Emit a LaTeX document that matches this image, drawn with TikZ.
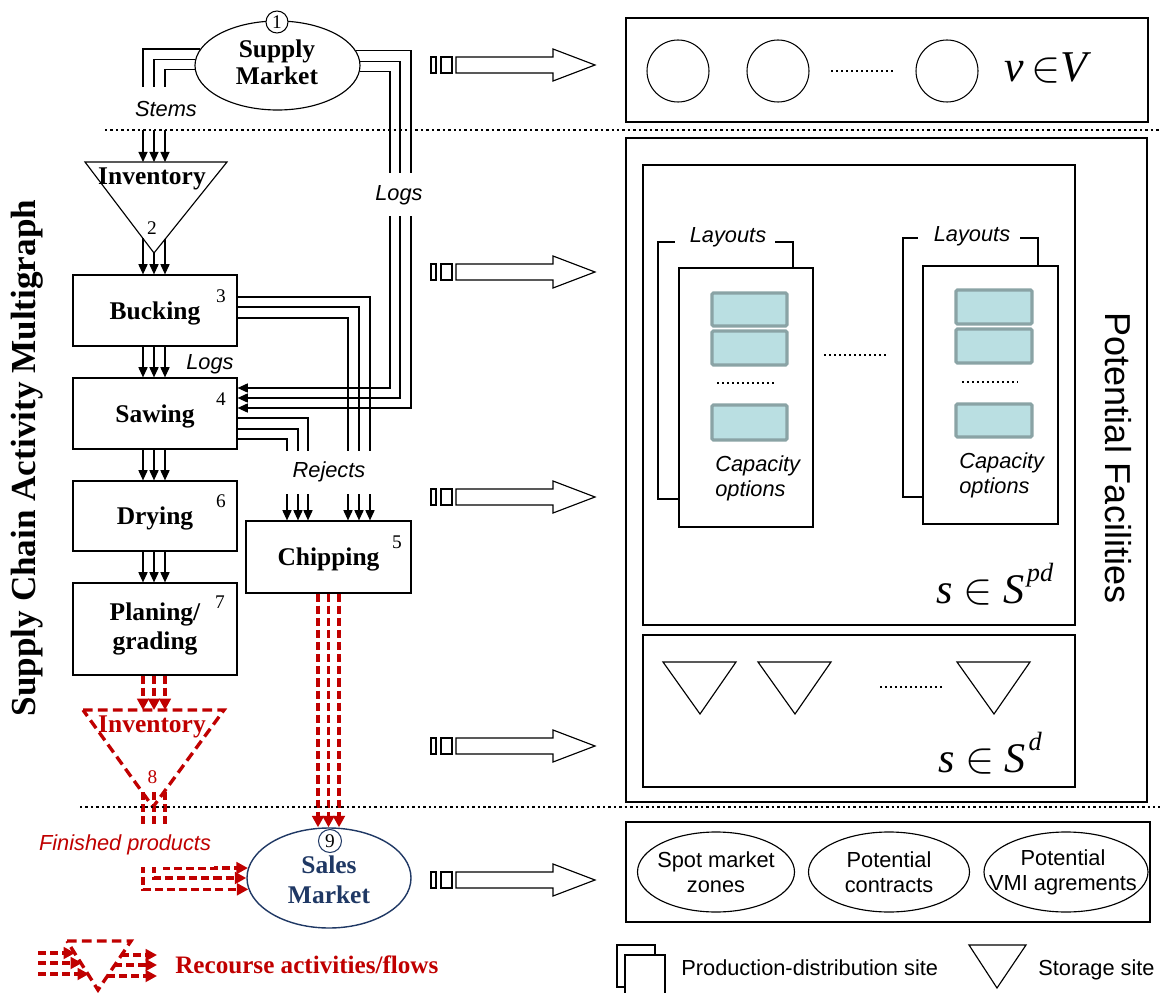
\documentclass[tikz,border=0pt]{standalone}
\usepackage{fontspec}
\setmainfont{Liberation Serif}
\newfontfamily\sfam{Liberation Sans}
\usetikzlibrary{arrows.meta,shapes.geometric}
\definecolor{rec}{HTML}{C00000}
\definecolor{navy}{HTML}{1F3864}
\definecolor{capfill}{HTML}{BADFE2}
\definecolor{capdraw}{HTML}{8AA3A5}
\newlength\PX
\setlength\PX{0.02cm}
\tikzset{
  procbox/.style={draw, line width=0.7pt, minimum width=164\PX, inner sep=0pt, align=center,
    font=\fontsize{14.5}{16}\selectfont\bfseries},
  boldtxt/.style={inner sep=0pt, align=center, font=\fontsize{14.5}{15.5}\selectfont\bfseries},
  num/.style={inner sep=0pt, font=\fontsize{11}{13}\selectfont},
  lab/.style={inner sep=0pt, font=\sfam\itshape\fontsize{12.4}{14.2}\selectfont},
  gaplab/.style={lab, fill=white, inner xsep=1.5pt, minimum height=43\PX},
  stxt/.style={inner sep=0pt, align=center, font=\sfam\fontsize{12.4}{14.2}\selectfont},
  fl/.style={line width=0.65pt, -{Triangle[length=5.8pt,width=5.2pt]}},
  rfl/.style={rec, line width=1.9pt, dash pattern=on 4.6pt off 2.3pt, -{Triangle[length=6.5pt,width=6.6pt]}},
  rtri/.style={rec, line width=1.9pt, dash pattern=on 5.5pt off 3pt, line join=miter},
  thin/.style={line width=0.65pt},
  dotline/.style={line width=1.1pt, dash pattern=on 1.1pt off 1.75pt},
  sepline/.style={line width=1.4pt, dash pattern=on 1.4pt off 1.7pt},
  capbox/.style={draw=capdraw, fill=capfill, line width=1.8pt, rounded corners=0.8pt},
  circ/.style={draw, circle, line width=0.6pt, minimum size=62\PX, inner sep=0pt},
  mkt/.style={draw, ellipse, thin, minimum height=80\PX, inner sep=0pt},
  mathlab/.style={inner sep=0pt, anchor=base},
}
\begin{document}
\begin{tikzpicture}[x=0.02cm, y=-0.02cm]
\fill[white] (0,0) rectangle (1160,993);
\path[use as bounding box] (0,0) rectangle (1160,993);

% ---------- left vertical title
\node[rotate=90, inner sep=0pt, font=\fontsize{20}{22}\selectfont\bfseries] (title) at (27,458) {Supply Chain Activity Multigraph};

% ---------- Supply market
\node[draw, ellipse, thin, minimum width=165\PX, minimum height=89\PX, inner sep=0pt] (sm) at (277.5,65.5) {};
\node[boldtxt] (smt) at (277,62) {Supply\\Market};

% ---------- process boxes
\node[procbox, text depth=0pt, minimum height=71\PX] (bucking) at (155,310.5) {Bucking};
\node[procbox, text depth=0pt, minimum height=71\PX] (sawing) at (155,413.5) {Sawing};
\node[procbox, text depth=0pt, minimum height=70\PX] (drying) at (155,516) {Drying};
\node[procbox, minimum height=92\PX] (planing) at (155,629) {Planing/\\grading};
\node[procbox, text depth=0pt, minimum width=165\PX, minimum height=72\PX] (chipping) at (328.5,557) {Chipping};
\node[num, anchor=base] (n3) at (221,303) {3};
\node[num, anchor=base] (n4) at (221,405) {4};
\node[num, anchor=base] (n6) at (221,507) {6};
\node[num, anchor=base] (n7) at (220,608) {7};
\node[num, anchor=base] (n5) at (397,548) {5};

% ---------- inventory (storage) 2
\coordinate (i1l) at (85,162); \coordinate (i1r) at (227,162); \coordinate (i1b) at (154,253);
\draw[thin] (i1l) -- (i1r) -- (i1b) -- cycle;
\node[boldtxt, anchor=base] (inv1) at (152,185) {Inventory};
\node[num, anchor=base] (n2) at (152,235) {2};
\coordinate (i1t1) at (143,162); \coordinate (i1t2) at (154,162); \coordinate (i1t3) at (165,162);
\coordinate (i1o1) at (143,238.5); \coordinate (i1o3) at (165,239);

% stems
\draw[fl] (sm.168.7) -| (i1t1);
\draw[fl] (sm.176.9) -| (i1t2);
\draw[fl] (sm.183.8) -| (i1t3);
% logs to sawing
\draw[fl] (sm.11.3) -| (411,408) -- (sawing.east |- 0,408);
\draw[fl] (sm.3.1) -| (400,398) -- (sawing.east |- 0,398);
\draw[fl] (sm.356.2) -| (390,388) -- (sawing.east |- 0,388);
% inventory to bucking
\draw[fl] (i1o1) -- (bucking.north -| i1o1);
\draw[fl] (i1b) -- (bucking.north -| i1b);
\draw[fl] (i1o3) -- (bucking.north -| i1o3);
% chain of boxes
\foreach \xx in {143,154,165} {
  \draw[fl] (bucking.south -| \xx,0) -- (sawing.north -| \xx,0);
  \draw[fl] (sawing.south -| \xx,0) -- (drying.north -| \xx,0);
  \draw[fl] (drying.south -| \xx,0) -- (planing.north -| \xx,0);
}
% rejects
\draw[fl] (bucking.east |- 0,297) -| (chipping.north -| 370,0);
\draw[fl] (bucking.east |- 0,307) -| (chipping.north -| 359,0);
\draw[fl] (bucking.east |- 0,318) -| (chipping.north -| 348,0);
\draw[fl] (sawing.east |- 0,418) -| (chipping.north -| 308,0);
\draw[fl] (sawing.east |- 0,429) -| (chipping.north -| 298,0);
\draw[fl] (sawing.east |- 0,439) -| (chipping.north -| 287,0);

\node[gaplab] (stems) at (166,109) {Stems};
\node[gaplab] (logsA) at (399,195) {Logs};
\node[gaplab, minimum width=100\PX] (rej) at (329,472) {Rejects};
\node[lab] (logsB) at (210,364) {Logs};

% ---------- recourse inventory 8
\coordinate (i2l) at (83,710); \coordinate (i2r) at (224,710); \coordinate (i2b) at (153,807);
\draw[rtri] (i2l) -- (i2r) -- (i2b) -- cycle;
\node[boldtxt, anchor=base, text=rec] (inv2) at (152,732) {Inventory};
\node[num, anchor=base, text=rec] (n8) at (152.5,783) {8};
\coordinate (i2o1) at (143,792); \coordinate (i2o2) at (154,792); \coordinate (i2o3) at (165,792);
\foreach \xx in {143,154,165} {
  \draw[rfl] (planing.south -| \xx,0) -- (\xx,710);
}

% ---------- sales market
\node[draw=navy, ellipse, line width=0.8pt, minimum width=164\PX, minimum height=100\PX, inner sep=0pt] (sales) at (329,878) {};
\node[boldtxt, text=navy, font=\fontsize{14.5}{17}\selectfont\bfseries] (salest) at (329,880) {Sales\\Market};
\draw[rfl] (i2o1) |- (sales.188.6);
\draw[rfl] (i2o2) |- (sales.180.7);
\draw[rfl] (i2o3) |- (sales.173.6);
\foreach \xx in {318,328.5,339} {
  \draw[rfl] (chipping.south -| \xx,0) -- (sales.north -| \xx,0);
}
\node[gaplab, text=rec] (fp) at (125,845) {Finished products};
\node[draw=navy, circle, fill=white, line width=0.6pt, minimum size=23\PX, inner sep=0pt, font=\fontsize{11}{13}\selectfont] (c9) at (330,841) {9};
\node[draw, circle, fill=white, line width=0.6pt, minimum size=22\PX, inner sep=0pt, font=\fontsize{11}{13}\selectfont] (c1) at (277,22) {1};

% ---------- block arrows
\foreach \yc in {65,272,497,746,880} {
  \draw[thin] (431,\yc-8) rectangle (436,\yc+8);
  \draw[thin] (441,\yc-8) rectangle (452,\yc+8);
  \draw[thin] (456,\yc-8) -- (553,\yc-8) -- (553,\yc-16) -- (595,\yc) -- (553,\yc+16) -- (553,\yc+8) -- (456,\yc+8) -- cycle;
}

% ---------- right: suppliers
\node[draw, thin, minimum width=522\PX, minimum height=104\PX, inner sep=0pt] (vbox) at (887,70) {};
\node[circ] (v1) at (678,71) {};
\node[circ] (v2) at (778,71) {};
\node[circ] (v3) at (947,71) {};
\draw[dotline] (831,71) -- (893,71);
\node[mathlab, font=\fontsize{25}{28}\selectfont] (vinV) at (1048,82) {\textit{v}\,$\in$\textit{V}};

% ---------- potential facilities
\node[draw, thin, minimum width=521\PX, minimum height=664\PX, inner sep=0pt] (pf) at (886.5,470) {};
\node[rotate=-90, inner sep=0pt, font=\sfam\fontsize{20.5}{22}\selectfont] (pft) at (1118,458) {Potential Facilities};
\node[draw, thin, minimum width=432\PX, minimum height=460\PX, inner sep=0pt] (pdbox) at (859,395) {};
\node[draw, thin, minimum width=432\PX, minimum height=152\PX, inner sep=0pt] (dbox) at (859,711) {};

% layout group 1
\draw[thin] (679,499) -| (658,242) -- (675,242);
\draw[thin] (775,242) -| (793,268);
\node[draw, thin, minimum width=134\PX, minimum height=259\PX, inner sep=0pt] (lay1) at (746,397.5) {};
\node[lab, anchor=base] (layt1) at (728,243) {Layouts};
\draw[capbox] (712,293) rectangle (787,326);
\draw[capbox] (712,331) rectangle (787,365);
\draw[capbox] (712,405) rectangle (787,440);
\draw[dotline] (717,383) -- (775,383);
\node[lab, align=left, anchor=west] (cap1) at (715,478) {Capacity\\options};

% layout group 2
\draw[thin] (923,497) -| (903,238) -- (918,238);
\draw[thin] (1020,238) -| (1038,266);
\node[draw, thin, minimum width=135\PX, minimum height=258\PX, inner sep=0pt] (lay2) at (990.5,395) {};
\node[lab, anchor=base] (layt2) at (972,242) {Layouts};
\draw[capbox] (956,290) rectangle (1032,324);
\draw[capbox] (956,329) rectangle (1032,363);
\draw[capbox] (956,404) rectangle (1032,437);
\draw[dotline] (962,382) -- (1018,382);
\node[lab, align=left, anchor=west] (cap2) at (959,475) {Capacity\\options};

\draw[dotline] (824,355) -- (886,355);
\node[mathlab, font=\fontsize{24}{26}\selectfont] (spd) at (995,603) {\textit{s} $\in$ \textit{S}\hspace{1.5pt}\raisebox{0.5em}{\fontsize{15}{15}\selectfont\textit{pd}}};

% storage sites
\draw[thin] (663,662) -- (736,662) -- (700,714) -- cycle;
\draw[thin] (758,662) -- (831,662) -- (795,714) -- cycle;
\draw[thin] (957,662) -- (1030,662) -- (994,714) -- cycle;
\draw[dotline] (880,687) -- (942,687);
\node[mathlab, font=\fontsize{24}{26}\selectfont] (sd) at (990,772) {\textit{s} $\in$ \textit{S}\hspace{1.5pt}\raisebox{0.5em}{\fontsize{15}{15}\selectfont\textit{d}}};

% ---------- markets
\node[draw, thin, minimum width=524\PX, minimum height=100\PX, inner sep=0pt] (mbox) at (888,872) {};
\node[mkt, minimum width=157\PX] (e1) at (716,872) {};
\node[mkt, minimum width=161\PX] (e2) at (889,872) {};
\node[mkt, minimum width=164\PX] (e3) at (1066,872) {};
\node[stxt] (e1t) at (e1) {Spot market\\zones};
\node[stxt] (e2t) at (e2) {Potential\\contracts};
\node[stxt] (e3t) at (1063,872) {Potential\\VMI agrements};

% ---------- legend
\coordinate (lgl) at (67,941); \coordinate (lgr) at (131,941); \coordinate (lgb) at (98,990);
\draw[rtri] (lgl) -- (lgr) -- (lgb) -- cycle;
\draw[rfl] (38,953) -- (75,953);
\draw[rfl] (38,963) -- (82,963);
\draw[rfl] (38,974) -- (89,974);
\draw[rfl] (121,955) -- (157,955);
\draw[rfl] (114,965) -- (157,965);
\draw[rfl] (107,976) -- (157,976);
\node[anchor=base west, inner sep=0pt, text=rec, font=\fontsize{14.3}{16}\selectfont\bfseries] (lgt) at (175,973) {Recourse activities/flows};
\draw[thin] (625,987) -| (617,945) -| (655,955);
\node[draw, thin, minimum width=40\PX, minimum height=45\PX, inner sep=0pt] (pdsite) at (645,977.5) {};
\node[stxt, anchor=base west] (pdt) at (681,975) {Production-distribution site};
\draw[thin] (969,945) -- (1026,945) -- (997,988) -- cycle;
\node[stxt, anchor=base west] (sst) at (1038,975) {Storage site};

% ---------- separators
\draw[sepline] (105,130) -- (1160,130);
\draw[sepline] (80,807) -- (1160,807);
\end{tikzpicture}
\end{document}
